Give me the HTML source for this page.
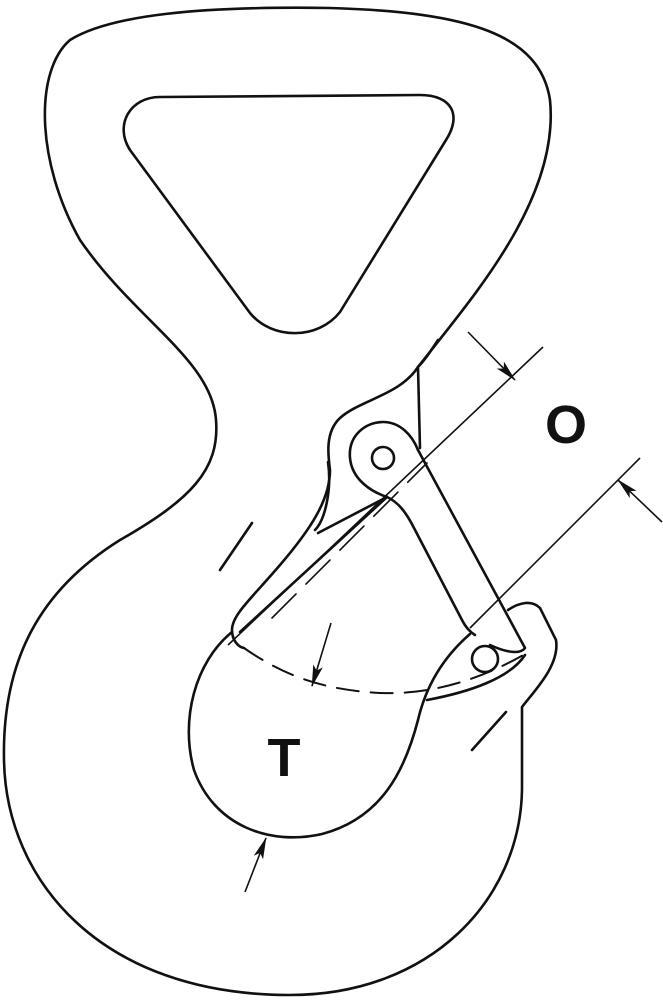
<!DOCTYPE html>
<html><head><meta charset="utf-8"><style>
html,body{margin:0;padding:0;background:#fff;}
svg{display:block;}
</style></head><body>
<svg width="663" height="1000" viewBox="0 0 663 1000" xmlns="http://www.w3.org/2000/svg">
<defs>
<marker id="ar" markerWidth="22" markerHeight="12" refX="21" refY="6" orient="auto" markerUnits="userSpaceOnUse"><path d="M0,1 L22,6 L0,11 L5,6 Z" fill="#111"/></marker>
</defs>
<g fill="none" stroke="#111" stroke-width="2.6" stroke-linejoin="round" stroke-linecap="round">
<path d="M418,367 C470,300 560,200 550,100 C540,35 470,12 330,8 C200,6 110,15 70,40 C35,70 35,160 80,240 C135,320 212,360 216,420 C220,470 190,500 120,540 C40,590 2,660 4,760 C6,880 100,995 290,995 C430,995 520,900 522,790 L522,707 C535,690 560,665 556,640 L540,608 C532,600 520,602 508,610"/>
<path d="M160,97 L420,95 C452,95 462,115 446,140 L340,312 C318,340 272,340 250,313 L130,150 C114,125 130,97 160,97 Z"/>
<path d="M232,632 C195,662 180,720 194,770 C214,826 270,846 322,834 C382,818 405,770 418,720 C425,690 440,660 470,634"/>
<path d="M427,700 C470,692 510,678 525,655"/>
<path d="M438,340 C430,352 425,360 418,367 L420,448"/>
<path d="M418,367 C400,395 360,400 340,418 C325,432 328,455 330,470 C330,500 310,530 280,565 C250,600 232,615 232,630 C232,640 238,647 244,648"/>
<path d="M328,462 C332,490 325,520 315,530"/>
<path d="M318,533 L387,497"/>
<path d="M240,632 L387,497"/>
<path d="M387,497 C372,492 352,480 350,458 C348,436 365,422 383,422 C400,422 412,435 418,450"/>
<circle cx="383" cy="458" r="11"/>
<path d="M418,450 L525,648 C520,655 505,652 490,645"/>
<path d="M387,497 C398,502 406,512 414,528 L462,620 C466,628 470,632 475,635"/>
<circle cx="485" cy="659" r="13"/>
<path d="M244,648 C290,680 330,690 380,693 C430,695 480,680 525,654" stroke-dasharray="22,12" stroke-width="2"/>
<path d="M272,618 L427,463" stroke-dasharray="34,14" stroke-width="1.6"/>
<path d="M220,570 L252,523"/>
<path d="M472,750 L506,712"/>
</g>
<g stroke="#111" stroke-width="1.6" fill="none">
<path d="M543,347 L228,645"/>
<path d="M640,458 L470,628"/>
<path d="M468,332 L515,380" marker-end="url(#ar)"/>
<path d="M662,522 L618,480" marker-end="url(#ar)"/>
<path d="M331,623 L312,686" marker-end="url(#ar)"/>
<path d="M245,892 L266,838" marker-end="url(#ar)"/>
</g>
<text x="566" y="443" font-family="Liberation Sans, sans-serif" font-weight="bold" font-size="54" text-anchor="middle" fill="#111">O</text>
<text x="284" y="776" font-family="Liberation Sans, sans-serif" font-weight="bold" font-size="54" text-anchor="middle" fill="#111">T</text>
</svg>
</body></html>
